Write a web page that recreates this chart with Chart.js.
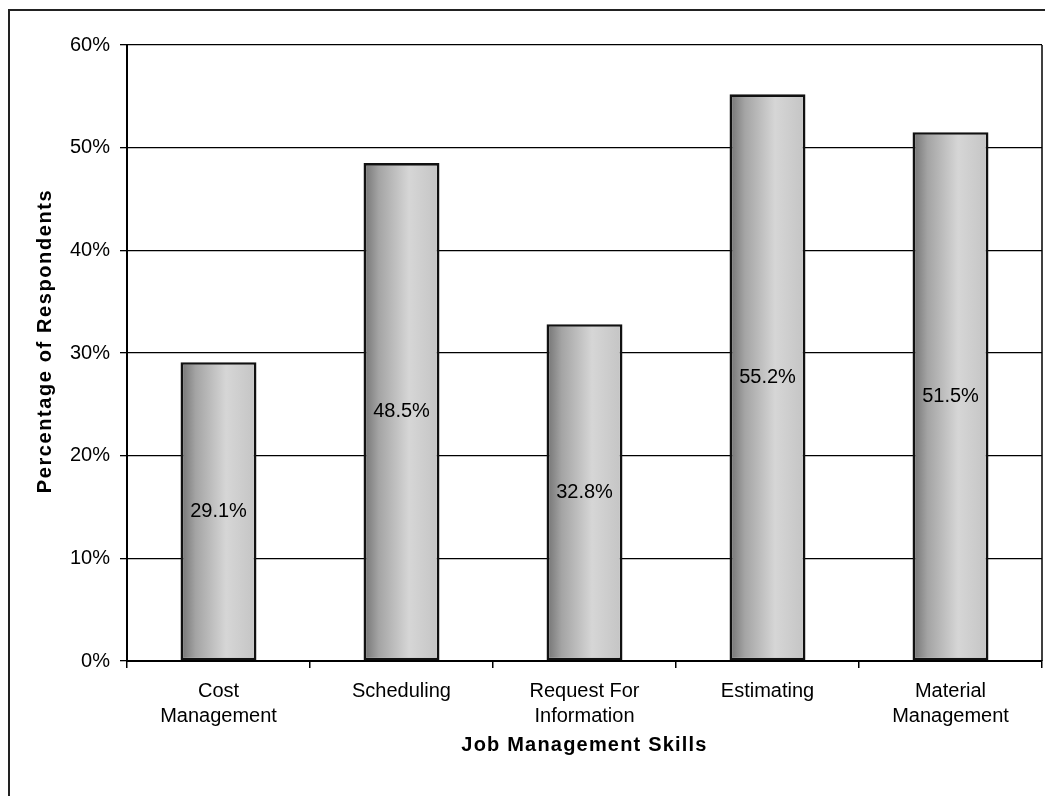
<!DOCTYPE html>
<html>
<head>
<meta charset="utf-8">
<title>Job Management Skills</title>
<script src="https://cdn.jsdelivr.net/npm/chart.js@4.4.0/dist/chart.umd.min.js"></script>
<style>
  body { margin: 0; background: #fff; overflow: hidden; }
  #moldura {
    position: absolute; left: 8px; top: 9px;
    width: 1060px; height: 820px;
    border-left: 2px solid #222; border-top: 2px solid #222;
  }
  #grafico { position: absolute; left: 0; top: 0; }
</style>
</head>
<body>
<div id="moldura"></div>
<canvas id="grafico" width="1045" height="796"></canvas>
<script>
var habilidades = [["Cost", "Management"], ["Scheduling"], ["Request For", "Information"], ["Estimating"], ["Material", "Management"]]
var porcentagens = [29.1, 48.5, 32.8, 55.2, 51.5]
var ticksY = [0, 10, 20, 30, 40, 50, 60]

var fonte = '"Liberation Sans", Arial, sans-serif'
var larguraBarra = 0.415

// gradiente cinza próprio de cada barra (um objeto por barra)
const corBarra = (context) => {
  var chart = context.chart
  var escala = chart.scales.x
  if (!escala || context.dataIndex === undefined) return "#b4b4b4"
  var centro = escala.getPixelForValue(context.dataIndex)
  var largura = (escala.width / habilidades.length) * larguraBarra
  if (!isFinite(centro) || !isFinite(largura) || largura <= 0) return "#b4b4b4"
  var x0 = centro - largura / 2
  var grad = chart.ctx.createLinearGradient(x0, 0, x0 + largura, 0)
  grad.addColorStop(0, "#727272")
  grad.addColorStop(0.2, "#a4a4a4")
  grad.addColorStop(0.6, "#d6d6d6")
  grad.addColorStop(1, "#c4c4c4")
  return grad
}

// valor escrito no meio de cada barra
const rotulosBarras = {
  id: "rotulosBarras",
  afterDatasetsDraw: (chart) => {
    var ctx = chart.ctx
    ctx.save()
    ctx.font = `20px ${fonte}`
    ctx.fillStyle = "#000"
    ctx.textAlign = "center"
    ctx.textBaseline = "middle"
    chart.getDatasetMeta(0).data.forEach((barra, i) => {
      ctx.fillText(porcentagens[i].toFixed(1) + "%", barra.x, (barra.y + barra.base) / 2)
    })
    ctx.restore()
  }
}

// borda direita da área do gráfico e títulos dos eixos
const bordaETitulos = {
  id: "bordaETitulos",
  afterDraw: (chart) => {
    var ctx = chart.ctx
    var area = chart.chartArea
    ctx.save()
    ctx.strokeStyle = "#000"
    ctx.lineWidth = 1.5
    ctx.beginPath()
    ctx.moveTo(area.right, area.top)
    ctx.lineTo(area.right, area.bottom)
    ctx.stroke()

    ctx.fillStyle = "#000"
    ctx.font = `bold 20px ${fonte}`
    ctx.textAlign = "center"
    ctx.textBaseline = "middle"
    ctx.letterSpacing = "1.2px"
    ctx.fillText("Job Management Skills", (area.left + area.right) / 2, 745)

    ctx.translate(45, 341)
    ctx.rotate(-Math.PI / 2)
    ctx.letterSpacing = "1.6px"
    ctx.fillText("Percentage of Respondents", 0, 0)
    ctx.restore()
  }
}

var grafico = new Chart(document.getElementById("grafico"), {
  type: "bar",
  data: {
    labels: habilidades,
    datasets: [{
      data: porcentagens,
      backgroundColor: corBarra,
      borderColor: "#111",
      borderWidth: 2.6,
      borderSkipped: false,
      categoryPercentage: 1,
      barPercentage: larguraBarra
    }]
  },
  options: {
    responsive: false,
    animation: false,
    layout: { padding: { top: 45, right: 3, left: 0, bottom: 0 } },
    plugins: {
      legend: { display: false },
      tooltip: { enabled: false }
    },
    scales: {
      x: {
        afterFit: (scale) => { scale.height = 135 },
        grid: { offset: true, drawOnChartArea: false, color: "#000", tickLength: 7, lineWidth: 1.5 },
        border: { color: "#000", width: 2 },
        ticks: {
          color: "#000",
          font: { family: fonte, size: 20, lineHeight: 1.25 },
          padding: 11,
          maxRotation: 0,
          autoSkip: false
        }
      },
      y: {
        min: ticksY[0],
        max: ticksY[ticksY.length - 1],
        afterFit: (scale) => { scale.width = 127 },
        afterBuildTicks: (scale) => { scale.ticks = ticksY.map(v => ({ value: v })) },
        grid: { color: "#000", lineWidth: 1.3, tickLength: 7 },
        border: { color: "#000", width: 2 },
        ticks: {
          color: "#000",
          font: { family: fonte, size: 20 },
          padding: 10,
          callback: (v) => v + "%"
        }
      }
    }
  },
  plugins: [rotulosBarras, bordaETitulos]
})
</script>
</body>
</html>
